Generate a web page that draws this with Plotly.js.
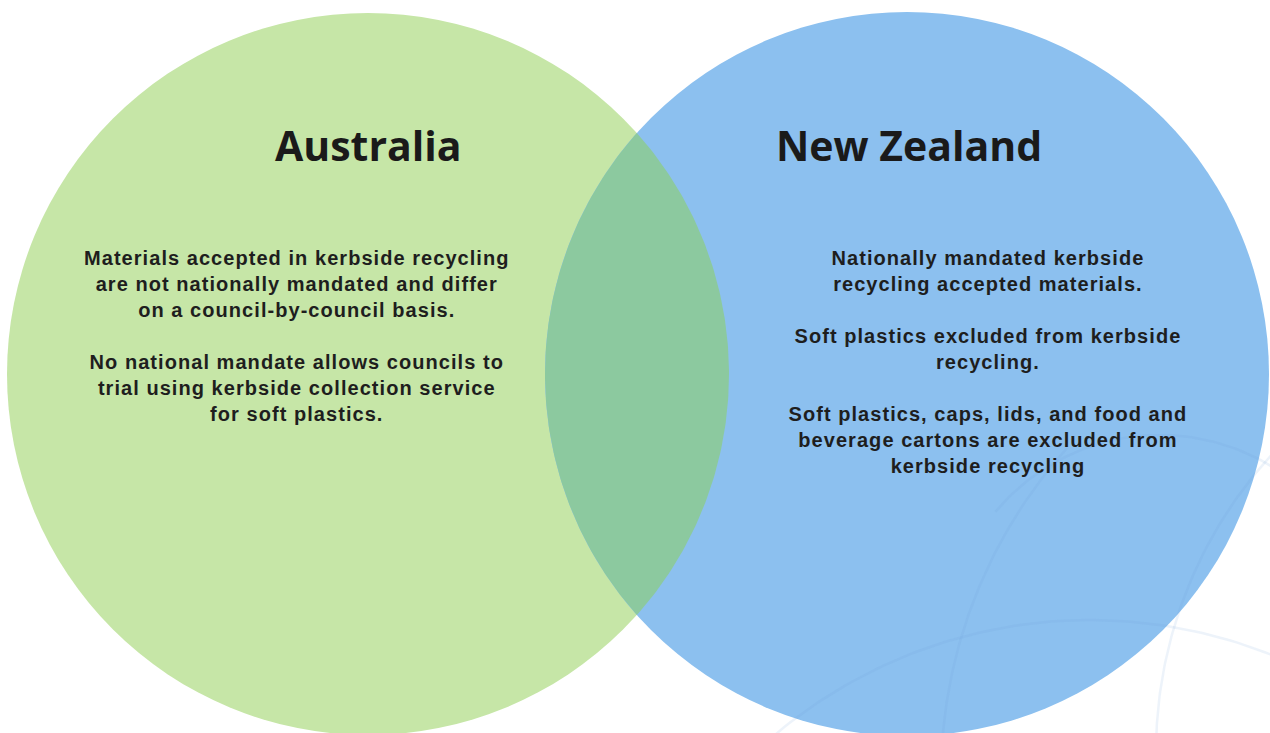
<!DOCTYPE html>
<html>
<head>
<meta charset="utf-8">
<script src="https://cdn.plot.ly/plotly-3.0.1.min.js"></script>
<style>
  html, body { margin: 0; padding: 0; background: #ffffff; }
  #chart { width: 1270px; height: 733px; }
  .body-text text { letter-spacing: 1.05px; }
</style>
</head>
<body>
<div id="chart"></div>
<script>
// ---- data ----
const setNames = ['Australia', 'New Zealand'];
const australiaItems = [
  'Materials accepted in kerbside recycling<br>are not nationally mandated and differ<br>on a council-by-council basis.',
  'No national mandate allows councils to<br>trial using kerbside collection service<br>for soft plastics.'
];
const newZealandItems = [
  'Nationally mandated kerbside<br>recycling accepted materials.',
  'Soft plastics excluded from kerbside<br>recycling.',
  'Soft plastics, caps, lids, and food and<br>beverage cartons are excluded from<br>kerbside recycling'
];
const overlapItems = [];

// ---- geometry / style (pixel space) ----
const W = 1270, H = 733;
const C = [{x: 368, y: 374, r: 361}, {x: 907, y: 374, r: 362}];
const colors = ['#c6e6a7', '#8cc0ef'];
const overlapColor = '#8cc99f';

function circlePts(cx, cy, r, a0, a1, n) {
  const xs = [], ys = [];
  for (let i = 0; i <= n; i++) {
    const a = (a0 + (a1 - a0) * i / n) * Math.PI / 180;
    xs.push(cx + r * Math.cos(a));
    ys.push(cy + r * Math.sin(a));
  }
  return {xs, ys};
}

// lens (intersection of the two circles)
const d = C[1].x - C[0].x;
const ix = (d * d - C[1].r * C[1].r + C[0].r * C[0].r) / (2 * d);
const ih = Math.sqrt(C[0].r * C[0].r - ix * ix);
const aL = Math.atan2(ih, ix) * 180 / Math.PI;
const aR = Math.atan2(ih, -(d - ix)) * 180 / Math.PI;
const p1 = circlePts(C[0].x, C[0].y, C[0].r, -aL, aL, 120);
const p2 = circlePts(C[1].x, C[1].y, C[1].r, aR, 360 - aR, 120);
const lens = {
  type: 'scatter', mode: 'lines', x: p1.xs.concat(p2.xs), y: p1.ys.concat(p2.ys),
  fill: 'toself', fillcolor: overlapColor, line: {width: 0, color: overlapColor},
  hoverinfo: 'skip', showlegend: false
};

// faint decorative globe arcs (background watermark)
const arcs = [
  {cx: 1090, cy: 1110, r: 490, a0: -132, a1: -64},
  {cx: 1433, cy: 777, r: 492, a0: -178, a1: -138},
  {cx: 1596, cy: 752, r: 440, a0: -180, a1: -135},
  {cx: 1160, cy: 650, r: 215, a0: -140, a1: -55}
];
const arcTraces = arcs.map(a => {
  const p = circlePts(a.cx, a.cy, a.r, a.a0, a.a1, 80);
  return {type: 'scatter', mode: 'lines', x: p.xs, y: p.ys,
    line: {width: 2.5, color: 'rgba(110,160,215,0.12)'}, hoverinfo: 'skip', showlegend: false};
});

const shapes = C.map((c, i) => ({
  type: 'circle', xref: 'x', yref: 'y', layer: 'below',
  x0: c.x - c.r, x1: c.x + c.r, y0: c.y - c.r, y1: c.y + c.r,
  fillcolor: colors[i], line: {width: 0}
}));

const bodyFont = {family: 'Liberation Sans, Arial, sans-serif', size: 20, color: '#1e1e1e'};
const titleFont = {family: 'Open Sans, Noto Sans, sans-serif', size: 41, color: '#1a1a1a', weight: 700};

const annotations = [
  {x: 368, y: 145, text: '<b>' + setNames[0] + '</b>', font: titleFont},
  {x: 909, y: 145, text: '<b>' + setNames[1] + '</b>', font: titleFont},
  {x: 297, y: 336, text: '<b>' + australiaItems.join('<br> <br>') + '</b>', font: bodyFont},
  {x: 988, y: 362, text: '<b>' + newZealandItems.join('<br> <br>') + '</b>', font: bodyFont}
].map(a => Object.assign({xref: 'x', yref: 'y', showarrow: false, align: 'center',
  xanchor: 'center', yanchor: 'middle'}, a));

const layout = {
  width: W, height: H,
  margin: {l: 0, r: 0, t: 0, b: 0},
  paper_bgcolor: '#ffffff', plot_bgcolor: '#ffffff',
  xaxis: {range: [0, W], visible: false, fixedrange: true},
  yaxis: {range: [H, 0], visible: false, fixedrange: true},
  shapes: shapes,
  annotations: annotations,
  showlegend: false
};

Plotly.newPlot('chart', [lens].concat(arcTraces), layout, {displayModeBar: false, staticPlot: true}).then(gd => {
  // body annotations (index 2 and 3) get extra letter spacing like the reference
  const anns = gd.querySelectorAll('.annotation');
  [2, 3].forEach(i => { if (anns[i]) anns[i].classList.add('body-text'); });
});
</script>
</body>
</html>
